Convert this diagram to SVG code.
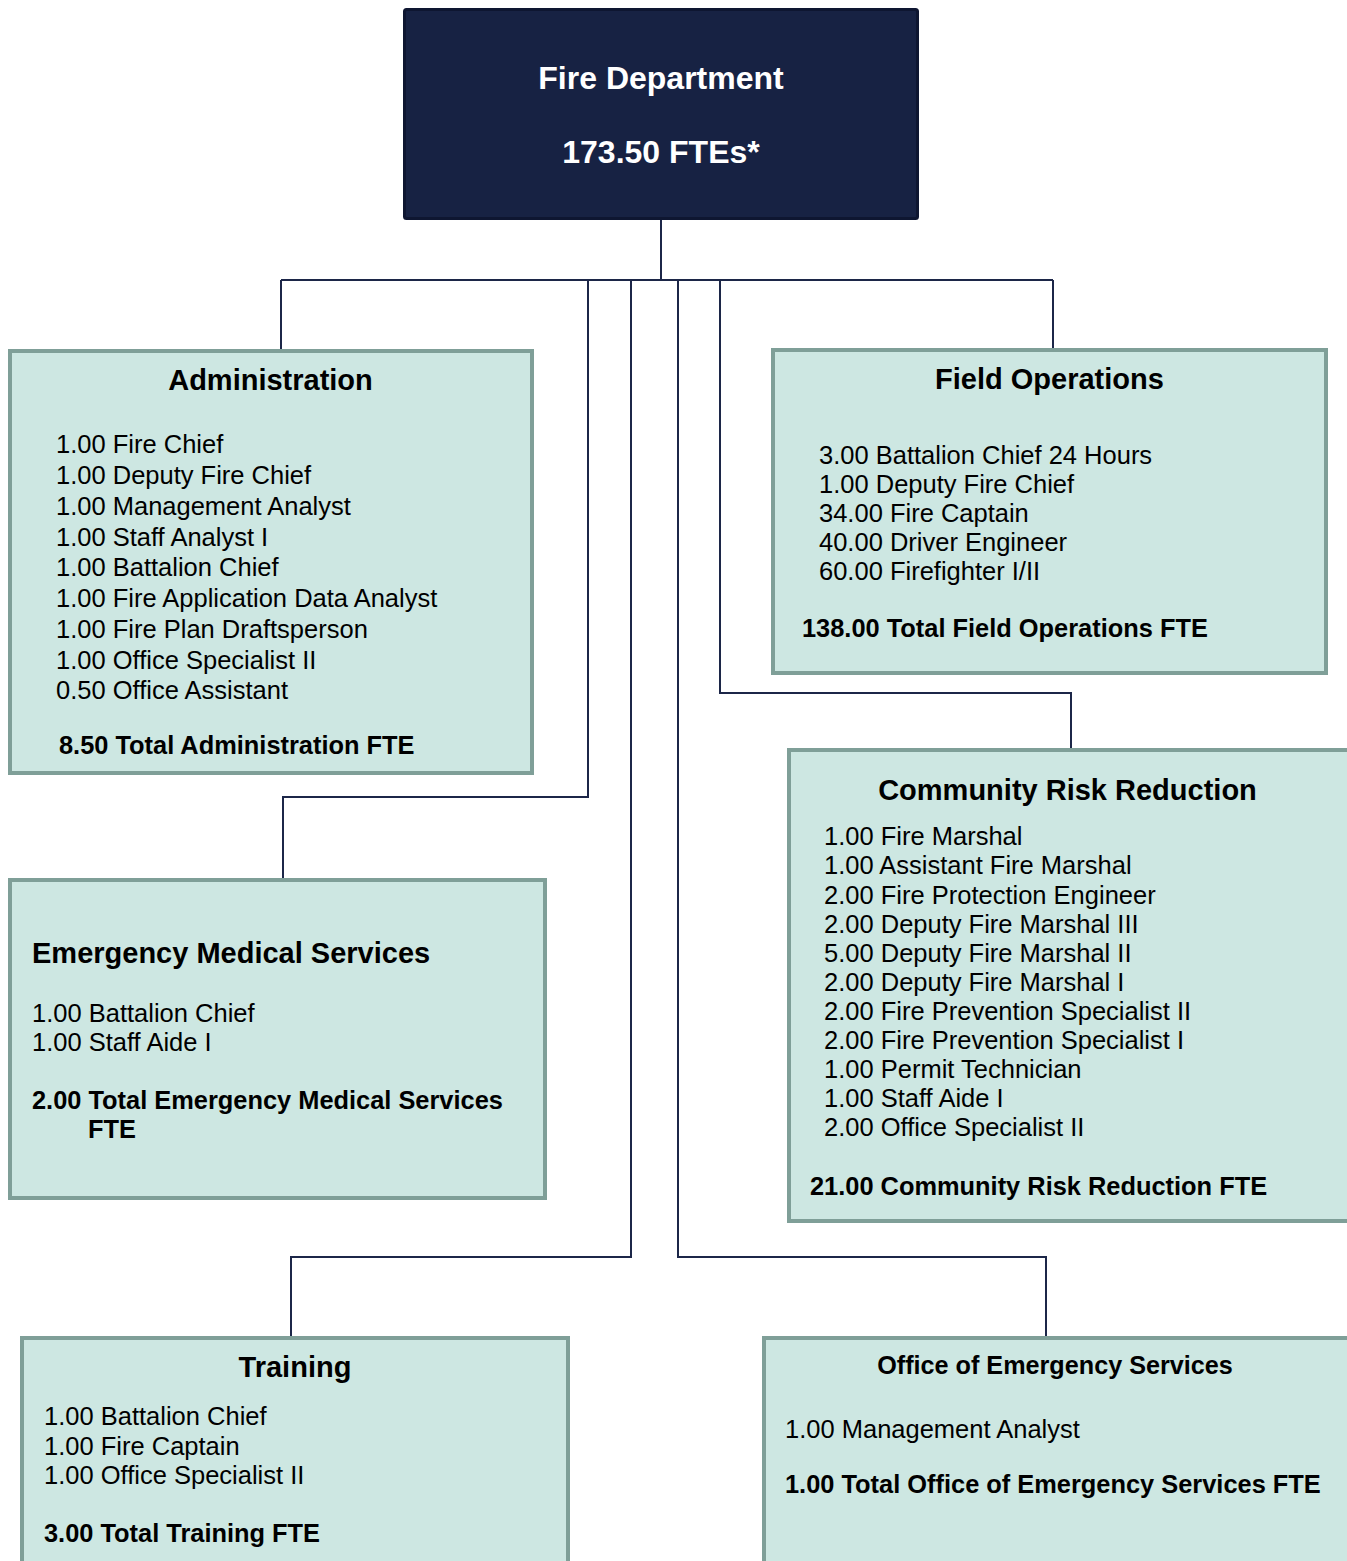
<svg xmlns="http://www.w3.org/2000/svg" width="1347" height="1561" viewBox="0 0 1347 1561">
<style>
.panel{fill:#cde7e2;stroke:#7f9f98;stroke-width:4}
.top{fill:#172243;stroke:#0e1631;stroke-width:3}
.conn{fill:none;stroke:#1c2648;stroke-width:2}
text{font-family:"Liberation Sans",Arial,sans-serif;fill:#000}
.h{font-size:29px;font-weight:bold}
.h2{font-size:25.2px;font-weight:bold}
.b{font-size:25.5px}
.t{font-size:25.4px;font-weight:bold}
.w{font-size:32px;font-weight:bold;fill:#fff}
</style>
<rect width="1347" height="1561" fill="#fff"/>
<g id="connectors">
<path class="conn" d="M661 220V280"/>
<path class="conn" d="M281 280H1053"/>
<path class="conn" d="M281 280V349"/>
<path class="conn" d="M1053 280V348"/>
<path class="conn" d="M588 280V797H283V878"/>
<path class="conn" d="M631 280V1257H291V1336"/>
<path class="conn" d="M678 280V1257H1046V1336"/>
<path class="conn" d="M720 280V693H1071V748"/>
</g>
<g id="fire-department">
<rect class="top" x="404.5" y="9.5" width="513" height="209" rx="2"/>
<text class="w" x="661" y="89" text-anchor="middle">Fire Department</text>
<text class="w" x="661" y="163" text-anchor="middle">173.50 FTEs*</text>
</g>
<g id="administration">
<rect class="panel" x="10" y="351" width="522" height="422"/>
<text class="h" x="270.5" y="390" text-anchor="middle">Administration</text>
<text class="b" x="56" y="453">1.00 Fire Chief</text>
<text class="b" x="56" y="484">1.00 Deputy Fire Chief</text>
<text class="b" x="56" y="515">1.00 Management Analyst</text>
<text class="b" x="56" y="546">1.00 Staff Analyst I</text>
<text class="b" x="56" y="576">1.00 Battalion Chief</text>
<text class="b" x="56" y="607">1.00 Fire Application Data Analyst</text>
<text class="b" x="56" y="638">1.00 Fire Plan Draftsperson</text>
<text class="b" x="56" y="669">1.00 Office Specialist II</text>
<text class="b" x="56" y="699">0.50 Office Assistant</text>
<text class="t" x="59" y="754">8.50 Total Administration FTE</text>
</g>
<g id="field-operations">
<rect class="panel" x="773" y="350" width="553" height="323"/>
<text class="h" x="1049.5" y="389" text-anchor="middle">Field Operations</text>
<text class="b" x="819" y="464">3.00 Battalion Chief 24 Hours</text>
<text class="b" x="819" y="493">1.00 Deputy Fire Chief</text>
<text class="b" x="819" y="522">34.00 Fire Captain</text>
<text class="b" x="819" y="551">40.00 Driver Engineer</text>
<text class="b" x="819" y="580">60.00 Firefighter I/II</text>
<text class="t" x="802" y="637">138.00 Total Field Operations FTE</text>
</g>
<g id="community-risk-reduction">
<rect class="panel" x="789" y="750" width="570" height="471"/>
<text class="h" x="1067.5" y="800" text-anchor="middle">Community Risk Reduction</text>
<text class="b" x="824" y="845">1.00 Fire Marshal</text>
<text class="b" x="824" y="874">1.00 Assistant Fire Marshal</text>
<text class="b" x="824" y="904">2.00 Fire Protection Engineer</text>
<text class="b" x="824" y="933">2.00 Deputy Fire Marshal III</text>
<text class="b" x="824" y="962">5.00 Deputy Fire Marshal II</text>
<text class="b" x="824" y="991">2.00 Deputy Fire Marshal I</text>
<text class="b" x="824" y="1020">2.00 Fire Prevention Specialist II</text>
<text class="b" x="824" y="1049">2.00 Fire Prevention Specialist I</text>
<text class="b" x="824" y="1078">1.00 Permit Technician</text>
<text class="b" x="824" y="1107">1.00 Staff Aide I</text>
<text class="b" x="824" y="1136">2.00 Office Specialist II</text>
<text class="t" x="810" y="1195">21.00 Community Risk Reduction FTE</text>
</g>
<g id="emergency-medical-services">
<rect class="panel" x="10" y="880" width="535" height="318"/>
<text class="h" x="32" y="963">Emergency Medical Services</text>
<text class="b" x="32" y="1022">1.00 Battalion Chief</text>
<text class="b" x="32" y="1051">1.00 Staff Aide I</text>
<text class="t" x="32" y="1109">2.00 Total Emergency Medical Services</text>
<text class="t" x="88" y="1138">FTE</text>
</g>
<g id="training">
<rect class="panel" x="22" y="1338" width="546" height="240"/>
<text class="h" x="295" y="1377" text-anchor="middle">Training</text>
<text class="b" x="44" y="1425">1.00 Battalion Chief</text>
<text class="b" x="44" y="1455">1.00 Fire Captain</text>
<text class="b" x="44" y="1484">1.00 Office Specialist II</text>
<text class="t" x="44" y="1542">3.00 Total Training FTE</text>
</g>
<g id="office-of-emergency-services">
<rect class="panel" x="764" y="1338" width="600" height="240"/>
<text class="h2" x="1055" y="1374" text-anchor="middle">Office of Emergency Services</text>
<text class="b" x="785" y="1438">1.00 Management Analyst</text>
<text class="t" x="785" y="1493">1.00 Total Office of Emergency Services FTE</text>
</g>
</svg>
